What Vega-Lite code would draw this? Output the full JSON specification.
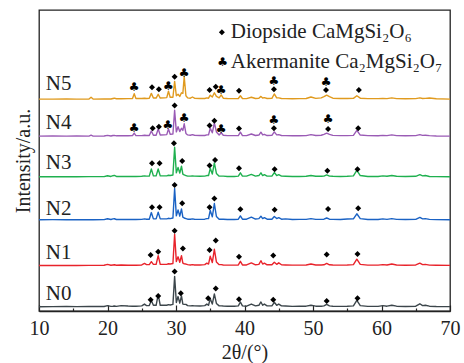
{
  "$schema": "https://vega.github.io/schema/vega-lite/v6.json",
  "width": 411,
  "height": 301,
  "autosize": "none",
  "padding": {"left": 39, "right": 14, "top": 10, "bottom": 52},
  "background": "white",
  "config": {
    "font": "Liberation Serif",
    "view": {"stroke": "#222222", "strokeWidth": 1.3}
  },
  "datasets": {
    "xrd": [
      {"x":10.0,"N0":1.4,"N1":15.1,"N2":30.3,"N3":44.6,"N4":58.1,"N5":70.4},
      {"x":12.0,"N0":1.45,"N1":15.1,"N2":30.35,"N3":44.6,"N4":58.15,"N5":70.4},
      {"x":14.0,"N0":1.5,"N1":15.15,"N2":30.3,"N3":44.65,"N4":58.1,"N5":70.45},
      {"x":15.5,"N0":1.45,"N1":15.1,"N2":30.35,"N3":44.6,"N4":58.15,"N5":70.4},
      {"x":17.3,"N0":1.5,"N1":15.15,"N2":30.3,"N3":44.65,"N4":58.1,"N5":70.4},
      {"x":17.6,"N0":1.5,"N1":15.15,"N2":30.35,"N3":44.65,"N4":58.4,"N5":71.0},
      {"x":17.9,"N0":1.5,"N1":15.15,"N2":30.3,"N3":44.65,"N4":58.1,"N5":70.4},
      {"x":19.5,"N0":1.5,"N1":15.2,"N2":30.35,"N3":44.65,"N4":58.15,"N5":70.45},
      {"x":20.0,"N0":1.8,"N1":15.5,"N2":30.65,"N3":44.95,"N4":58.35,"N5":70.45},
      {"x":20.5,"N0":1.55,"N1":15.2,"N2":30.4,"N3":44.7,"N4":58.15,"N5":70.45},
      {"x":20.8,"N0":1.6,"N1":15.3,"N2":30.6,"N3":44.95,"N4":58.3,"N5":70.6},
      {"x":21.0,"N0":1.65,"N1":15.35,"N2":30.65,"N3":45.05,"N4":58.35,"N5":70.7},
      {"x":21.3,"N0":1.55,"N1":15.2,"N2":30.4,"N3":44.7,"N4":58.2,"N5":70.5},
      {"x":22.0,"N0":1.8,"N1":15.3,"N2":30.45,"N3":44.7,"N4":58.2,"N5":70.5},
      {"x":23.0,"N0":1.65,"N1":15.2,"N2":30.4,"N3":44.7,"N4":58.2,"N5":70.55},
      {"x":23.65,"N0":1.6,"N1":15.2,"N2":30.4,"N3":44.7,"N4":58.25,"N5":70.6},
      {"x":23.9,"N0":1.6,"N1":15.25,"N2":30.4,"N3":44.7,"N4":59.1,"N5":72.2},
      {"x":24.15,"N0":1.6,"N1":15.2,"N2":30.4,"N3":44.7,"N4":58.25,"N5":70.6},
      {"x":25.0,"N0":1.7,"N1":15.3,"N2":30.45,"N3":44.75,"N4":58.25,"N5":70.6},
      {"x":25.4,"N0":2.3,"N1":15.8,"N2":30.6,"N3":44.9,"N4":58.4,"N5":70.7},
      {"x":25.7,"N0":1.8,"N1":15.4,"N2":30.5,"N3":44.8,"N4":58.3,"N5":70.6},
      {"x":26.1,"N0":1.8,"N1":15.4,"N2":30.5,"N3":44.8,"N4":58.3,"N5":70.65},
      {"x":26.4,"N0":3.5,"N1":16.4,"N2":32.7,"N3":47.2,"N4":59.8,"N5":72.3},
      {"x":26.7,"N0":1.9,"N1":15.5,"N2":30.6,"N3":44.9,"N4":58.4,"N5":70.75},
      {"x":27.1,"N0":1.9,"N1":15.5,"N2":30.6,"N3":44.9,"N4":58.4,"N5":70.75},
      {"x":27.4,"N0":5.5,"N1":18.4,"N2":32.8,"N3":47.2,"N4":60.5,"N5":72.0},
      {"x":27.7,"N0":1.9,"N1":15.5,"N2":30.6,"N3":44.9,"N4":58.45,"N5":70.75},
      {"x":28.3,"N0":1.9,"N1":15.5,"N2":30.6,"N3":44.9,"N4":58.5,"N5":70.8},
      {"x":28.65,"N0":1.9,"N1":15.5,"N2":30.6,"N3":44.9,"N4":58.6,"N5":70.9},
      {"x":28.9,"N0":2.1,"N1":15.7,"N2":30.8,"N3":45.1,"N4":60.5,"N5":73.0},
      {"x":29.15,"N0":2.0,"N1":15.6,"N2":30.7,"N3":45.0,"N4":58.7,"N5":71.0},
      {"x":29.55,"N0":2.2,"N1":15.8,"N2":30.9,"N3":45.2,"N4":58.8,"N5":71.0},
      {"x":29.8,"N0":11.5,"N1":25.5,"N2":40.7,"N3":54.4,"N4":66.7,"N5":76.3},
      {"x":30.05,"N0":2.8,"N1":16.4,"N2":31.6,"N3":45.9,"N4":59.5,"N5":71.5},
      {"x":30.3,"N0":4.8,"N1":18.0,"N2":33.6,"N3":47.7,"N4":61.2,"N5":72.0},
      {"x":30.55,"N0":2.6,"N1":16.2,"N2":31.5,"N3":45.8,"N4":59.6,"N5":71.3},
      {"x":30.8,"N0":5.0,"N1":18.4,"N2":33.9,"N3":48.1,"N4":60.7,"N5":72.5},
      {"x":31.0,"N0":2.3,"N1":15.9,"N2":31.2,"N3":45.5,"N4":60.0,"N5":72.3},
      {"x":31.2,"N0":2.2,"N1":15.7,"N2":30.9,"N3":45.2,"N4":62.2,"N5":77.8},
      {"x":31.45,"N0":2.2,"N1":15.6,"N2":30.7,"N3":45.0,"N4":59.0,"N5":71.5},
      {"x":31.7,"N0":1.8,"N1":15.4,"N2":30.5,"N3":44.8,"N4":58.5,"N5":70.8},
      {"x":32.1,"N0":1.7,"N1":15.3,"N2":30.5,"N3":44.8,"N4":58.4,"N5":70.7},
      {"x":32.4,"N0":1.8,"N1":15.4,"N2":30.6,"N3":44.9,"N4":58.6,"N5":71.1},
      {"x":32.7,"N0":1.7,"N1":15.3,"N2":30.5,"N3":44.8,"N4":58.4,"N5":70.7},
      {"x":33.5,"N0":1.65,"N1":15.3,"N2":30.45,"N3":44.75,"N4":58.3,"N5":70.6},
      {"x":34.2,"N0":1.8,"N1":15.4,"N2":30.5,"N3":44.8,"N4":58.3,"N5":70.6},
      {"x":34.5,"N0":2.3,"N1":15.9,"N2":30.7,"N3":45.0,"N4":58.5,"N5":70.8},
      {"x":34.75,"N0":1.9,"N1":15.6,"N2":30.7,"N3":45.0,"N4":58.5,"N5":70.7},
      {"x":35.0,"N0":4.1,"N1":18.2,"N2":33.4,"N3":47.4,"N4":60.7,"N5":71.7},
      {"x":35.3,"N0":2.3,"N1":16.1,"N2":31.3,"N3":45.5,"N4":59.2,"N5":71.1},
      {"x":35.6,"N0":5.7,"N1":20.5,"N2":35.7,"N3":49.2,"N4":62.5,"N5":72.5},
      {"x":35.9,"N0":2.5,"N1":16.3,"N2":31.4,"N3":45.7,"N4":59.5,"N5":71.3},
      {"x":36.3,"N0":1.7,"N1":15.4,"N2":30.5,"N3":44.8,"N4":58.5,"N5":70.8},
      {"x":36.6,"N0":1.7,"N1":15.4,"N2":30.5,"N3":44.8,"N4":59.2,"N5":71.8},
      {"x":36.9,"N0":1.65,"N1":15.3,"N2":30.5,"N3":44.8,"N4":58.4,"N5":70.7},
      {"x":37.5,"N0":1.6,"N1":15.25,"N2":30.4,"N3":44.7,"N4":58.25,"N5":70.6},
      {"x":38.5,"N0":1.6,"N1":15.25,"N2":30.4,"N3":44.7,"N4":58.25,"N5":70.55},
      {"x":39.1,"N0":1.7,"N1":15.3,"N2":30.5,"N3":44.8,"N4":58.3,"N5":70.6},
      {"x":39.4,"N0":3.0,"N1":16.5,"N2":31.6,"N3":45.9,"N4":59.4,"N5":71.5},
      {"x":39.7,"N0":1.7,"N1":15.3,"N2":30.5,"N3":44.8,"N4":58.3,"N5":70.6},
      {"x":40.3,"N0":1.6,"N1":15.3,"N2":30.5,"N3":44.8,"N4":58.25,"N5":70.55},
      {"x":41.0,"N0":2.3,"N1":16.0,"N2":31.2,"N3":45.4,"N4":58.8,"N5":71.0},
      {"x":41.6,"N0":1.7,"N1":15.35,"N2":30.55,"N3":44.8,"N4":58.3,"N5":70.6},
      {"x":42.1,"N0":1.9,"N1":15.5,"N2":30.7,"N3":45.0,"N4":58.45,"N5":70.7},
      {"x":42.4,"N0":3.0,"N1":16.7,"N2":31.5,"N3":45.9,"N4":59.4,"N5":71.3},
      {"x":42.65,"N0":1.9,"N1":15.6,"N2":30.7,"N3":45.0,"N4":58.5,"N5":70.75},
      {"x":42.9,"N0":2.3,"N1":15.9,"N2":31.0,"N3":45.3,"N4":58.7,"N5":70.9},
      {"x":43.3,"N0":1.7,"N1":15.35,"N2":30.5,"N3":44.8,"N4":58.3,"N5":70.6},
      {"x":44.0,"N0":1.7,"N1":15.35,"N2":30.5,"N3":44.8,"N4":58.35,"N5":70.65},
      {"x":44.35,"N0":2.9,"N1":16.2,"N2":31.4,"N3":46.0,"N4":59.5,"N5":72.1},
      {"x":44.7,"N0":1.9,"N1":15.5,"N2":30.7,"N3":45.0,"N4":58.5,"N5":70.8},
      {"x":45.0,"N0":2.3,"N1":16.0,"N2":31.0,"N3":45.3,"N4":58.6,"N5":70.8},
      {"x":45.4,"N0":1.7,"N1":15.35,"N2":30.5,"N3":44.8,"N4":58.3,"N5":70.6},
      {"x":46.0,"N0":1.65,"N1":15.3,"N2":30.6,"N3":44.75,"N4":58.25,"N5":70.55},
      {"x":47.0,"N0":1.55,"N1":15.25,"N2":30.4,"N3":44.7,"N4":58.2,"N5":70.5},
      {"x":48.0,"N0":1.6,"N1":15.25,"N2":30.45,"N3":44.7,"N4":58.2,"N5":70.55},
      {"x":49.0,"N0":1.6,"N1":15.3,"N2":30.45,"N3":44.75,"N4":58.25,"N5":70.6},
      {"x":49.7,"N0":1.9,"N1":15.6,"N2":30.7,"N3":45.0,"N4":58.6,"N5":71.1},
      {"x":50.4,"N0":1.6,"N1":15.3,"N2":30.45,"N3":44.75,"N4":58.3,"N5":70.65},
      {"x":51.2,"N0":1.6,"N1":15.3,"N2":30.45,"N3":44.75,"N4":58.4,"N5":70.8},
      {"x":51.6,"N0":1.7,"N1":15.35,"N2":30.5,"N3":44.8,"N4":58.7,"N5":71.2},
      {"x":52.0,"N0":2.2,"N1":15.8,"N2":30.9,"N3":45.2,"N4":59.1,"N5":71.7},
      {"x":52.4,"N0":1.7,"N1":15.35,"N2":30.5,"N3":44.8,"N4":58.7,"N5":71.2},
      {"x":52.9,"N0":1.6,"N1":15.3,"N2":30.45,"N3":44.75,"N4":58.35,"N5":70.7},
      {"x":54.0,"N0":1.55,"N1":15.25,"N2":30.4,"N3":44.7,"N4":58.25,"N5":70.6},
      {"x":55.0,"N0":1.6,"N1":15.3,"N2":30.55,"N3":44.75,"N4":58.25,"N5":70.6},
      {"x":55.9,"N0":1.7,"N1":15.4,"N2":30.6,"N3":44.9,"N4":58.35,"N5":70.65},
      {"x":56.4,"N0":3.5,"N1":17.2,"N2":32.3,"N3":46.7,"N4":60.0,"N5":71.5},
      {"x":56.9,"N0":1.8,"N1":15.5,"N2":30.7,"N3":45.0,"N4":58.45,"N5":70.7},
      {"x":58.0,"N0":1.55,"N1":15.25,"N2":30.4,"N3":44.7,"N4":58.25,"N5":70.55},
      {"x":59.5,"N0":1.55,"N1":15.25,"N2":30.4,"N3":44.7,"N4":58.2,"N5":70.55},
      {"x":60.2,"N0":1.8,"N1":15.4,"N2":30.6,"N3":44.9,"N4":58.35,"N5":70.65},
      {"x":60.8,"N0":1.6,"N1":15.3,"N2":30.45,"N3":44.75,"N4":58.25,"N5":70.55},
      {"x":61.5,"N0":1.9,"N1":15.6,"N2":30.7,"N3":45.0,"N4":58.5,"N5":70.8},
      {"x":62.2,"N0":1.6,"N1":15.3,"N2":30.45,"N3":44.75,"N4":58.25,"N5":70.55},
      {"x":63.5,"N0":1.5,"N1":15.2,"N2":30.4,"N3":44.7,"N4":58.2,"N5":70.5},
      {"x":65.0,"N0":1.6,"N1":15.3,"N2":30.45,"N3":44.75,"N4":58.25,"N5":70.55},
      {"x":65.6,"N0":2.4,"N1":15.9,"N2":31.1,"N3":45.3,"N4":58.6,"N5":70.8},
      {"x":66.0,"N0":1.8,"N1":15.4,"N2":30.6,"N3":44.9,"N4":58.35,"N5":70.6},
      {"x":66.4,"N0":1.9,"N1":15.5,"N2":30.7,"N3":45.0,"N4":58.4,"N5":70.65},
      {"x":67.0,"N0":1.6,"N1":15.25,"N2":30.45,"N3":44.7,"N4":58.25,"N5":70.75},
      {"x":68.0,"N0":1.5,"N1":15.2,"N2":30.35,"N3":44.65,"N4":58.15,"N5":70.5},
      {"x":70.0,"N0":1.45,"N1":15.15,"N2":30.3,"N3":44.6,"N4":58.1,"N5":70.4}
    ],
    "markers": [
      {"x":23.9,"y":74.3,"s":"c"},{"x":26.5,"y":74.3,"s":"d"},{"x":27.5,"y":73.7,"s":"d"},{"x":28.9,"y":74.8,"s":"c"},
      {"x":29.8,"y":77.8,"s":"d"},{"x":31.2,"y":79.0,"s":"c"},{"x":34.9,"y":73.4,"s":"d"},{"x":35.8,"y":74.5,"s":"d"},
      {"x":36.6,"y":73.4,"s":"c"},{"x":39.2,"y":73.2,"s":"d"},{"x":44.3,"y":76.5,"s":"c"},{"x":44.3,"y":73.7,"s":"d"},
      {"x":51.9,"y":76.2,"s":"c"},{"x":51.9,"y":73.4,"s":"d"},{"x":56.7,"y":73.4,"s":"d"},
      {"x":23.9,"y":60.7,"s":"c"},{"x":26.6,"y":60.7,"s":"d"},{"x":27.5,"y":61.2,"s":"d"},{"x":28.8,"y":61.8,"s":"c"},
      {"x":29.8,"y":68.3,"s":"d"},{"x":31.2,"y":64.0,"s":"c"},{"x":34.9,"y":61.6,"s":"d"},{"x":35.6,"y":63.2,"s":"d"},
      {"x":36.6,"y":60.3,"s":"c"},{"x":39.2,"y":60.6,"s":"d"},{"x":44.3,"y":63.5,"s":"c"},{"x":44.3,"y":60.7,"s":"d"},
      {"x":52.2,"y":63.8,"s":"c"},{"x":52.2,"y":60.5,"s":"d"},{"x":56.6,"y":60.7,"s":"d"},
      {"x":26.5,"y":49.1,"s":"d"},{"x":27.6,"y":49.1,"s":"d"},{"x":29.7,"y":55.7,"s":"d"},{"x":30.9,"y":49.8,"s":"d"},
      {"x":34.9,"y":48.3,"s":"d"},{"x":35.7,"y":50.2,"s":"d"},{"x":39.2,"y":47.4,"s":"d"},{"x":44.4,"y":47.1,"s":"d"},
      {"x":52.1,"y":46.6,"s":"d"},{"x":56.5,"y":47.1,"s":"d"},
      {"x":26.5,"y":34.5,"s":"d"},{"x":27.6,"y":34.5,"s":"d"},{"x":29.8,"y":41.9,"s":"d"},{"x":30.9,"y":35.8,"s":"d"},
      {"x":34.9,"y":34.5,"s":"d"},{"x":35.6,"y":37.4,"s":"d"},{"x":39.4,"y":33.8,"s":"d"},{"x":44.4,"y":33.6,"s":"d"},
      {"x":52.2,"y":33.9,"s":"d"},{"x":56.6,"y":34.1,"s":"d"},
      {"x":26.3,"y":18.6,"s":"d"},{"x":27.4,"y":19.7,"s":"d"},{"x":29.8,"y":26.7,"s":"d"},{"x":31.0,"y":20.8,"s":"d"},
      {"x":34.9,"y":20.3,"s":"d"},{"x":35.8,"y":23.4,"s":"d"},{"x":39.2,"y":18.0,"s":"d"},{"x":44.2,"y":18.4,"s":"d"},
      {"x":52.0,"y":18.8,"s":"d"},{"x":56.5,"y":18.9,"s":"d"},
      {"x":26.3,"y":3.7,"s":"d"},{"x":27.4,"y":5.0,"s":"d"},{"x":29.8,"y":13.1,"s":"d"},{"x":30.7,"y":5.9,"s":"d"},
      {"x":34.7,"y":4.2,"s":"d"},{"x":35.8,"y":7.5,"s":"d"},{"x":39.2,"y":3.9,"s":"d"},{"x":44.2,"y":3.7,"s":"d"},
      {"x":52.0,"y":3.3,"s":"d"},{"x":56.5,"y":4.2,"s":"d"},
      {"x":36.7,"y":92.6,"s":"d"},{"x":36.8,"y":82.8,"s":"c"}
    ],
    "texts": [
      {"x":11.0,"y":75.4,"t":"N5"},
      {"x":11.0,"y":62.5,"t":"N4"},
      {"x":11.0,"y":49.2,"t":"N3"},
      {"x":11.0,"y":33.9,"t":"N2"},
      {"x":11.0,"y":19.3,"t":"N1"},
      {"x":11.0,"y":5.6,"t":"N0"},
      {"x":38.0,"y":92.6,"t":"Diopside CaMgSi₂O₆"},
      {"x":38.0,"y":82.8,"t":"Akermanite Ca₂MgSi₂O₇"}
    ]
  },
  "resolve": {"axis": {"x": "independent"}},
  "layer": [
    {
      "data": {"name": "xrd"},
      "transform": [{"fold": ["N0","N1","N2","N3","N4","N5"], "as": ["series","y"]}],
      "mark": {"type": "line", "strokeWidth": 1.4, "strokeJoin": "round"},
      "encoding": {
        "x": {"field": "x", "type": "quantitative", "scale": {"domain": [10,70], "nice": false, "zero": false},
          "axis": {"values": [10,20,30,40,50,60,70], "tickSize": -6, "tickColor": "#222222", "tickWidth": 1.2,
            "domain": true, "domainColor": "#222222", "domainWidth": 1.3, "grid": false,
            "labelFontSize": 20, "labelColor": "#222222", "labelPadding": 13, "labelFlush": false,
            "title": "2θ/(°)", "titleFontSize": 20, "titleFontWeight": "normal", "titleColor": "#222222", "titlePadding": 4}},
        "y": {"field": "y", "type": "quantitative", "scale": {"domain": [0,100], "nice": false, "zero": false},
          "axis": {"labels": false, "ticks": false, "domain": false, "grid": false,
            "title": "Intensity/a.u.", "titleFontSize": 20, "titleFontWeight": "normal", "titleColor": "#222222", "titlePadding": 6}},
        "color": {"field": "series", "type": "nominal", "legend": null,
          "scale": {"domain": ["N0","N1","N2","N3","N4","N5"], "range": ["#3c464b","#e8232b","#1a62c4","#1fb04f","#9a5bb5","#e09a1e"]}},
        "order": {"field": "x", "type": "quantitative"}
      }
    },
    {
      "data": {"name": "markers"},
      "transform": [{"filter": "datum.s === 'd'"}],
      "mark": {"type": "point", "shape": "diamond", "filled": true, "color": "black", "size": 36, "opacity": 1},
      "encoding": {
        "x": {"field": "x", "type": "quantitative",
          "axis": {"values": [15,25,35,45,55,65], "tickSize": -3, "tickColor": "#222222", "tickWidth": 1.2,
            "labels": false, "domain": false, "grid": false, "title": null, "orient": "bottom"}},
        "y": {"field": "y", "type": "quantitative"}
      }
    },
    {
      "data": {"name": "markers"},
      "transform": [{"filter": "datum.s === 'c'"}],
      "mark": {"type": "text", "text": "♣", "font": "DejaVu Sans", "fontSize": 12, "color": "black", "baseline": "middle", "align": "center"},
      "encoding": {
        "x": {"field": "x", "type": "quantitative", "axis": null},
        "y": {"field": "y", "type": "quantitative"}
      }
    },
    {
      "data": {"name": "texts"},
      "mark": {"type": "text", "fontSize": 21, "color": "#222222", "baseline": "middle", "align": "left", "font": "Liberation Serif"},
      "encoding": {
        "x": {"field": "x", "type": "quantitative", "axis": null},
        "y": {"field": "y", "type": "quantitative"},
        "text": {"field": "t"}
      }
    }
  ]
}
